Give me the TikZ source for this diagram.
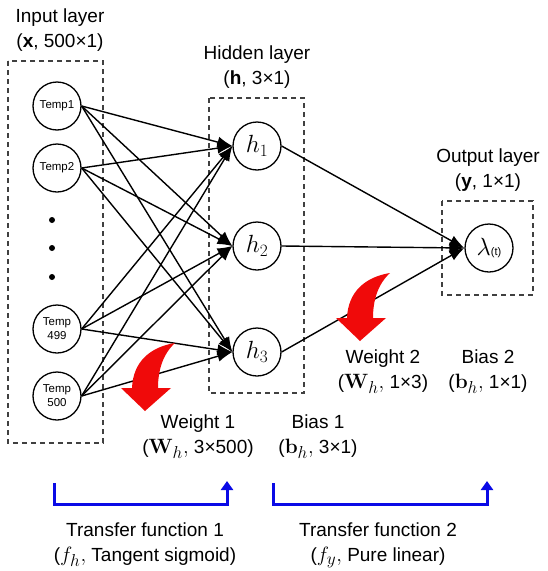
\documentclass[tikz,border=0pt]{standalone}
\usepackage{graphicx}
\usepackage[no-math]{fontspec}
\setmainfont{Liberation Sans}
\usetikzlibrary{arrows.meta}
\newcommand{\lblmath}[1]{\scalebox{1.2}{$#1$}}
\tikzset{
  neuron/.style={circle,draw,line width=1.3pt,minimum size=48pt,inner sep=0pt},
  layerbox/.style={draw=black!75,dashed,dash pattern=on 5pt off 4pt,line width=1.1pt},
  conn/.style={line width=1.4pt,-{Latex[length=15pt,width=11pt]}},
  lbl/.style={align=center,font=\fontsize{19}{25}\selectfont,inner sep=0pt},
  tmp/.style={font=\fontsize{11.5}{14}\selectfont,align=center,inner sep=0pt},
  hfont/.style={font=\fontsize{23}{23}\selectfont},
  bracket/.style={draw={rgb,255:red,10;green,10;blue,230},line width=3pt},
  bracketarrow/.style={bracket,-{Triangle[length=9pt,width=12pt]}},
  redarrow/.style={fill={rgb,255:red,240;green,10;blue,10},draw=none}
}
\begin{document}
\begin{tikzpicture}[x=1pt,y=-1pt]
\useasboundingbox (0,0) rectangle (548,571);
% boxes
\draw[layerbox] (8,61) rectangle (103,443);
\draw[layerbox] (209,98) rectangle (304,393);
\draw[layerbox] (442,201) rectangle (533,295);
% layer labels
\node[lbl] (inlbl) at (60,30) {Input layer\\(\textbf{x}, 500×1)};
\node[lbl] (hidlbl) at (257,67) {Hidden layer\\(\textbf{h}, 3×1)};
\node[lbl] (outlbl) at (488,170) {Output layer\\(\textbf{y}, 1×1)};
% input neurons
\node[neuron] (t1) at (57,106) {};
\node[tmp] at (t1) {Temp1};
\node[neuron] (t2) at (57,168) {};
\node[tmp] at (t2) {Temp2};
\node[neuron] (t499) at (57,329) {};
\node[tmp] at (t499) {Temp\\499};
\node[neuron] (t500) at (57,396) {};
\node[tmp] at (t500) {Temp\\500};
\fill (52,220) circle (3pt) (52,248) circle (3pt) (52,277) circle (3pt);
% hidden neurons
\node[neuron,hfont] (h1) at (257,146) {$h_1$};
\node[neuron,hfont] (h2) at (257,246) {$h_2$};
\node[neuron,hfont] (h3) at (257,352) {$h_3$};
% output neuron
\node[neuron,hfont] (out) at (489,248) {$\lambda${\fontsize{11}{11}\selectfont(t)}};
% connections
\foreach \i in {t1,t2,t499,t500}{
  \foreach \j in {h1,h2,h3}{
    \draw[conn] (\i.east) -- (\j.west);
  }
}
\foreach \j in {h1,h2,h3}{
  \draw[conn] (\j.east) -- (out.west);
}
% red curved arrows
\foreach \dx/\dy in {0/0,215/-70}{
  \begin{scope}[shift={(\dx,\dy)}]
  \path[redarrow] (175,343) .. controls (150,347) and (133,362) .. (132,388)
     -- (121,388) -- (145,411) -- (171,388) -- (158,388)
     .. controls (158,370) and (163,354) .. (175,343) -- cycle;
  \end{scope}
}
% weight / bias labels
\node[lbl] (w1) at (198,437) {Weight 1\\(\lblmath{\mathbf{W}_h,} 3×500)};
\node[lbl] (b1) at (318,437) {Bias 1\\(\lblmath{\mathbf{b}_h,} 3×1)};
\node[lbl] (w2) at (383,372) {Weight 2\\(\lblmath{\mathbf{W}_h,} 1×3)};
\node[lbl] (b2) at (488,372) {Bias 2\\(\lblmath{\mathbf{b}_h,} 1×1)};
% blue brackets
\coordinate (a1s) at (54,483);
\coordinate (a1c) at (54,504);
\coordinate (a1d) at (227,504);
\coordinate (a1e) at (227,481);
\coordinate (a2s) at (273,483);
\coordinate (a2c) at (273,504);
\coordinate (a2d) at (487,504);
\coordinate (a2e) at (487,481);
\draw[bracketarrow] (a1s) -- (a1c) -- (a1d) -- (a1e);
\draw[bracketarrow] (a2s) -- (a2c) -- (a2d) -- (a2e);
% transfer function labels
\node[lbl] (tf1) at (145,545) {Transfer function 1\\(\lblmath{f_h,} Tangent sigmoid)};
\node[lbl] (tf2) at (378,545) {Transfer function 2\\(\lblmath{f_y,} Pure linear)};
\end{tikzpicture}
\end{document}
